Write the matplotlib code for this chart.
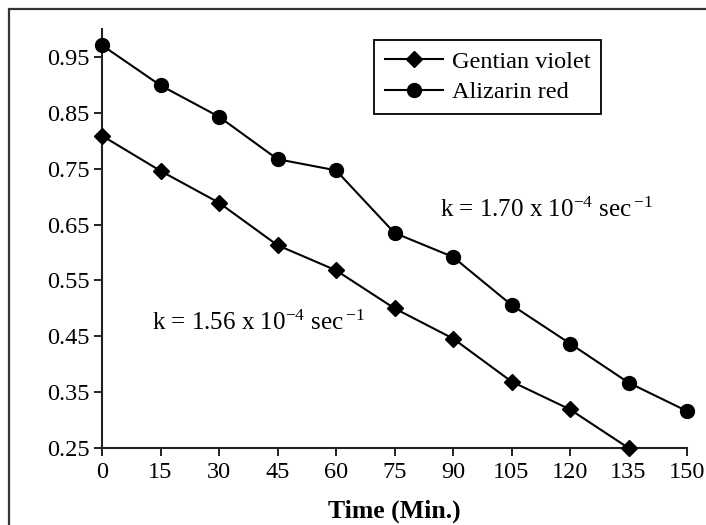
import matplotlib
matplotlib.use("Agg")
import matplotlib.pyplot as plt
from matplotlib.patches import Rectangle

plt.rcParams['font.family'] = ['Liberation Serif', 'DejaVu Serif']
plt.rcParams['mathtext.fontset'] = 'custom'
plt.rcParams['mathtext.rm'] = 'Liberation Serif'
plt.rcParams['mathtext.it'] = 'Liberation Serif'

# time in minutes
time_min = [0, 15, 30, 45, 60, 75, 90, 105, 120, 135, 150]
gentian_violet = [0.809, 0.746, 0.689, 0.613, 0.568, 0.500, 0.446, 0.369, 0.319, 0.250]
alizarin_red = [0.971, 0.899, 0.843, 0.767, 0.747, 0.635, 0.592, 0.506, 0.437, 0.367, 0.316]
yticks = [0.25, 0.35, 0.45, 0.55, 0.65, 0.75, 0.85, 0.95]

W, H = 706, 525
fig = plt.figure(figsize=(W/100, H/100), dpi=100)
ax = fig.add_axes([102/W, 1 - 448/H, (687 - 102)/W, (448 - 29)/H])

ax.plot(time_min[:len(gentian_violet)], gentian_violet, color='black', lw=1.5,
        marker='D', markersize=8, label='Gentian violet', clip_on=False, zorder=3)
ax.plot(time_min, alizarin_red, color='black', lw=1.5,
        marker='o', markersize=10, label='Alizarin red', clip_on=False, zorder=3)

ax.set_xlim(0, 150)
ax.set_ylim(0.25, 1.0)
ax.set_xticks(time_min)
ax.set_yticks(yticks)
ax.set_yticklabels([f"{v:.2f}" for v in yticks])
ax.tick_params(direction='out', length=6, width=1.4, labelsize=17.5, color='#222222')
ax.tick_params(axis='x', pad=4)
ax.tick_params(axis='y', pad=3)
for s in ['top', 'right']:
    ax.spines[s].set_visible(False)
for s in ['left', 'bottom']:
    ax.spines[s].set_linewidth(1.5)
    ax.spines[s].set_color('#222222')

ax.set_xlabel('Time (Min.)', fontsize=18.5, fontweight='bold', labelpad=12)

# rate constants, placed in pixel coords (y from top)
ax.text(440/W, 1 - 217/H, r'k = 1.70 x 10$^{\mathregular{-4}}$ sec$\,^{\mathregular{-1}}$',
        fontsize=18, transform=fig.transFigure, va='baseline')
ax.text(152/W, 1 - 330/H, r'k = 1.56 x 10$^{\mathregular{-4}}$ sec$\,^{\mathregular{-1}}$',
        fontsize=18, transform=fig.transFigure, va='baseline')

leg = ax.legend(loc='upper left', bbox_to_anchor=(374/W, 1 - 40/H),
                bbox_transform=fig.transFigure, fontsize=17.5, frameon=True,
                fancybox=False, edgecolor='black', framealpha=1,
                handlelength=2.4, borderpad=0.45, labelspacing=0.35,
                handletextpad=0.35, borderaxespad=0)
leg.get_frame().set_linewidth(1.3)

fig.add_artist(Rectangle((9/W, -0.1), 1.2, 1.1 - 9/H, transform=fig.transFigure,
                         fill=False, edgecolor='#333333', lw=1.6, clip_on=False))

fig.savefig('out.png', dpi=100)
